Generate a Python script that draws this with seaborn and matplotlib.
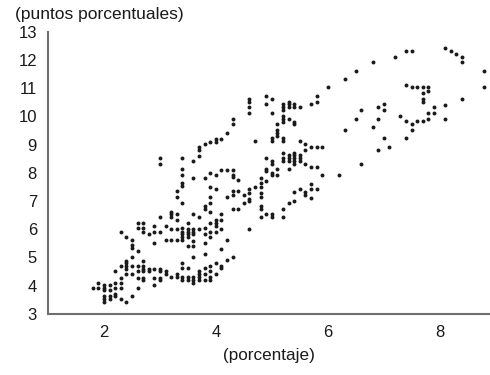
import matplotlib
matplotlib.use("Agg")
import matplotlib.pyplot as plt
import seaborn as sns
import pandas as pd

# Unemployment-type scatter: x in percent, y in percentage points
pts_lower_left = [
    (1.8, 3.93), (1.9, 3.93), (1.9, 4.11),
    (2.0, 4.03), (2.0, 3.93), (2.0, 3.83), (2.0, 3.64), (2.0, 3.53), (2.0, 3.41),
    (2.1, 4.03), (2.1, 3.83), (2.1, 3.64), (2.1, 3.53),
    (2.2, 4.11), (2.2, 3.93), (2.2, 3.72), (2.2, 3.64),
    (2.3, 4.26), (2.3, 4.11), (2.3, 3.93), (2.3, 3.53),
    (2.4, 3.41), (2.5, 3.64),
]
pts_lower_band = [
    (2.2, 4.52), (2.3, 4.71), (2.4, 4.89), (2.4, 4.80), (2.4, 4.71), (2.4, 4.60), (2.4, 4.42),
    (2.5, 5.01), (2.5, 4.71), (2.5, 4.42),
    (2.6, 4.71), (2.6, 4.52), (2.6, 4.26), (2.6, 3.93),
    (2.7, 4.89), (2.7, 4.71), (2.7, 4.60), (2.7, 4.52), (2.7, 4.26), (2.7, 4.20),
    (2.8, 4.60), (2.8, 4.52),
    (2.9, 4.60), (2.9, 4.26), (2.9, 4.03),
    (3.0, 4.60), (3.0, 4.52), (3.0, 4.26), (3.0, 4.20),
    (3.1, 4.52), (3.1, 4.42), (3.2, 4.32),
    (3.3, 4.42), (3.3, 4.32),
    (3.4, 4.32), (3.4, 4.20), (3.4, 4.82), (3.4, 4.62),
]
pts_mid_left = [
    (2.3, 5.92), (2.4, 5.74), (2.5, 5.62), (2.5, 5.45), (2.5, 5.34), (2.6, 5.23),
    (2.6, 6.24), (2.6, 6.04), (2.7, 6.24), (2.7, 6.04), (2.7, 5.92),
    (2.8, 5.82), (2.9, 6.12), (2.9, 5.92), (2.9, 5.53), (3.0, 5.92), (3.0, 6.42),
    (3.1, 6.12), (3.1, 5.62), (3.2, 6.00), (3.2, 5.62), (3.2, 6.63), (3.2, 6.53), (3.2, 6.45),
    (3.3, 6.53), (3.3, 6.33), (3.3, 6.00), (3.3, 5.62),
    (3.4, 6.04), (3.4, 5.92), (3.4, 5.82), (3.4, 5.74), (3.4, 5.62), (3.4, 6.93),
    (3.3, 7.34), (3.3, 7.16),
    (3.0, 8.52), (3.0, 8.32), (3.4, 8.52), (3.4, 8.13), (3.4, 7.93), (3.4, 7.63), (3.4, 7.54),
]
pts_centre_low = [
    (3.5, 6.22), (3.5, 6.00), (3.5, 5.92), (3.5, 5.82), (3.5, 5.72),
    (3.6, 6.00), (3.6, 5.92), (3.6, 5.82), (3.7, 6.00), (3.5, 5.41), (3.6, 5.41), (3.6, 5.60),
    (3.8, 5.51), (3.8, 6.04), (3.8, 5.82), (3.9, 6.22), (3.9, 5.92), (3.9, 5.72),
    (4.0, 6.33), (4.0, 6.22), (4.0, 6.12), (4.0, 5.92), (4.1, 6.53), (4.1, 6.33), (4.1, 6.00),
    (3.6, 6.53), (3.7, 6.42), (4.2, 5.62), (4.6, 6.00), (4.1, 5.30), (3.6, 5.01), (3.8, 5.12),
    (4.2, 4.92), (4.3, 5.01), (4.0, 4.82), (4.1, 4.71), (4.1, 4.62), (3.9, 4.71), (3.9, 4.52),
    (4.0, 4.42), (3.8, 4.62), (3.8, 4.42), (3.8, 4.20), (3.7, 4.52), (3.7, 4.42), (3.7, 4.30),
    (3.7, 4.20), (3.6, 4.30), (3.6, 4.20), (3.6, 4.11), (3.5, 4.62), (3.5, 4.30), (3.5, 4.20),
    (3.9, 4.30), (3.9, 4.20),
]
pts_centre_mid = [
    (4.1, 8.10), (4.2, 8.10), (4.3, 8.10), (3.9, 8.01), (4.0, 7.93), (4.3, 7.93), (4.3, 7.85),
    (4.4, 7.73), (3.6, 7.82), (3.8, 7.82), (3.9, 7.51), (4.0, 7.42), (4.2, 7.13), (4.3, 7.34),
    (4.3, 7.22), (4.4, 7.34), (4.5, 7.22), (4.6, 7.42), (4.6, 7.30), (4.6, 7.07), (4.6, 7.00),
    (4.5, 6.92), (4.7, 7.51), (4.8, 7.63), (4.8, 7.51), (4.8, 7.81), (4.8, 7.30), (4.8, 7.13),
    (4.9, 8.05), (4.9, 7.72), (5.0, 8.01), (5.0, 7.93), (5.1, 7.93), (5.2, 6.71), (5.2, 6.42),
    (5.3, 6.92), (4.8, 6.83), (4.8, 6.71), (4.8, 6.42), (4.9, 6.53), (5.0, 6.53), (5.0, 6.42),
    (4.3, 6.71), (4.4, 6.71), (3.9, 7.13), (3.9, 6.92), (3.9, 6.63), (3.8, 6.83), (3.8, 6.71),
]
pts_centre_high = [
    (3.6, 8.43), (3.7, 8.93), (3.7, 8.82), (3.7, 8.61), (3.8, 9.02), (3.9, 9.11), (4.0, 9.19),
    (4.0, 9.11), (4.1, 9.20), (4.2, 9.43), (4.3, 9.92), (4.3, 9.73),
    (4.6, 10.62), (4.6, 10.53), (4.6, 10.33), (4.6, 10.14), (4.7, 9.13),
    (4.9, 10.73), (4.9, 10.43), (5.0, 10.62), (5.0, 10.14), (5.0, 9.23), (5.0, 9.13),
    (5.1, 9.73), (5.1, 9.53), (5.1, 9.43), (5.1, 9.32),
    (5.2, 10.43), (5.2, 10.33), (5.2, 10.23), (5.2, 10.02), (5.2, 9.92), (5.2, 9.82),
    (5.2, 9.23), (5.2, 9.13), (5.3, 10.53), (5.3, 10.43), (5.3, 10.33), (5.3, 9.92),
    (4.9, 8.52), (5.0, 8.43), (5.0, 8.32), (5.2, 8.72), (5.2, 8.52), (5.2, 8.43),
    (5.3, 8.64), (5.3, 8.52), (5.3, 8.43), (4.9, 8.13), (5.1, 8.13), (5.3, 8.13),
]
pts_right_mid = [
    (6.8, 11.92), (6.5, 11.63), (6.3, 11.32), (6.0, 11.03), (5.8, 10.73), (5.8, 10.53),
    (5.7, 10.43), (5.4, 10.43), (5.4, 10.33), (5.5, 10.33), (5.4, 9.82), (5.4, 9.73),
    (6.3, 9.52), (6.6, 10.23), (6.5, 9.92), (6.9, 10.33), (7.0, 10.43), (7.0, 10.23),
    (6.9, 9.92), (6.8, 9.62), (7.0, 9.23), (6.9, 8.82), (7.1, 8.93), (6.6, 8.32),
    (5.5, 9.13), (5.6, 9.03), (5.6, 8.82), (5.7, 8.93), (5.8, 8.93), (5.9, 8.93),
    (5.4, 8.72), (5.4, 8.64), (5.4, 8.52), (5.4, 8.43), (5.4, 8.32),
    (5.5, 8.64), (5.5, 8.52), (5.5, 8.43), (5.6, 8.32), (5.7, 8.22), (5.8, 8.22),
    (5.9, 7.92), (6.2, 7.92), (5.7, 7.61), (5.5, 7.42), (5.7, 7.42), (5.8, 7.42),
    (5.4, 7.31), (5.6, 7.31), (5.6, 7.22), (5.7, 7.11), (5.4, 7.02),
]
pts_far_right = [
    (7.2, 12.12), (7.4, 12.33), (7.5, 12.33), (8.1, 12.43), (8.2, 12.33), (8.3, 12.23),
    (8.4, 12.12), (8.4, 11.92), (8.8, 11.63), (8.8, 11.03),
    (7.4, 11.12), (7.5, 11.03), (7.6, 11.03), (7.7, 11.03), (7.8, 11.03), (7.8, 10.92),
    (7.7, 10.83), (7.7, 10.62), (7.7, 10.53), (8.4, 10.62), (8.1, 10.42), (7.9, 10.33),
    (7.8, 10.13), (7.9, 10.13), (7.8, 9.92), (8.1, 9.92), (7.3, 10.02), (7.4, 9.83),
    (7.5, 9.73), (7.5, 9.53), (7.6, 9.83), (7.7, 9.83), (7.4, 9.23),
]

groups = [pts_lower_left, pts_lower_band, pts_mid_left, pts_centre_low,
          pts_centre_mid, pts_centre_high, pts_right_mid, pts_far_right]
rows = [p for g in groups for p in g]
df = pd.DataFrame(rows, columns=["x", "y"])

x_ticks = [2, 4, 6, 8]
y_ticks = list(range(3, 14))

sns.set_style("white")
plt.rcParams["font.family"] = ["Liberation Sans", "DejaVu Sans"]

fig = plt.figure(figsize=(4.9, 3.75), dpi=100)
ax = fig.add_axes([0.098, 0.163, 0.902, 0.752])

sns.scatterplot(data=df, x="x", y="y", ax=ax, s=8, color="#1a1a1a",
                linewidth=0, marker="o", legend=False)

ax.set_xlim(1.0, 8.9)
ax.set_ylim(3, 13)
ax.set_xticks(x_ticks)
ax.set_yticks(y_ticks)

spine_col = "#6e6e6e"
for side in ["top", "right"]:
    ax.spines[side].set_visible(False)
for side in ["left", "bottom"]:
    ax.spines[side].set_color(spine_col)
    ax.spines[side].set_linewidth(1.5)

ax.tick_params(axis="both", direction="in", length=3, width=1, color=spine_col,
               labelsize=12, labelcolor="#1a1a1a")
ax.tick_params(axis="y", pad=8)
ax.tick_params(axis="x", pad=8)

ax.set_xlabel("(porcentaje)", fontsize=12.3, color="#1a1a1a", labelpad=6)
ax.set_ylabel("")
fig.text(0.031, 0.96, "(puntos porcentuales)", fontsize=12.5, color="#1a1a1a",
         ha="left", va="center")

fig.savefig("out.png", dpi=100)
